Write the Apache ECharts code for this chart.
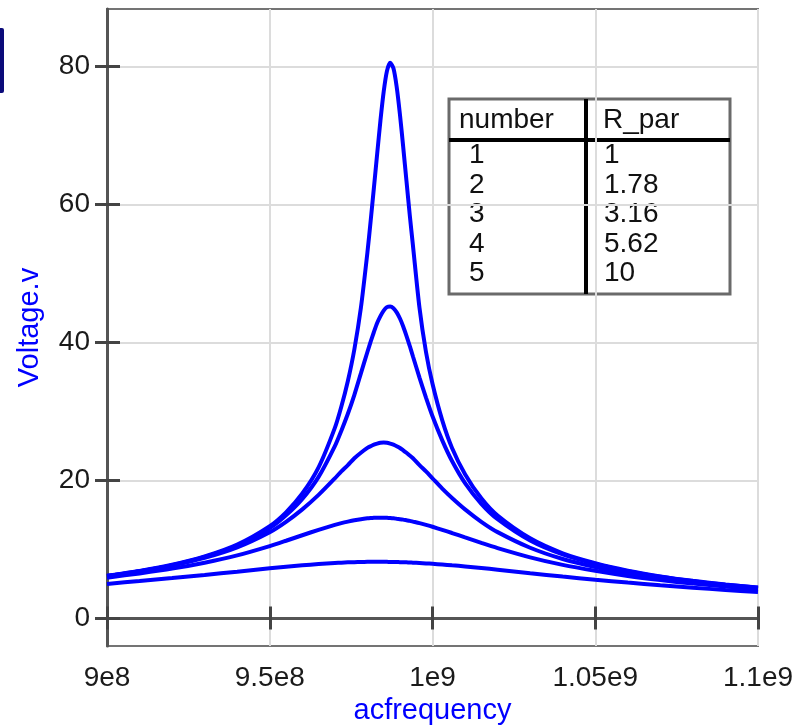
<!DOCTYPE html>
<html>
<head>
<meta charset="utf-8">
<script src="https://cdn.jsdelivr.net/npm/echarts@6/dist/echarts.min.js"></script>
<style>
html, body { margin: 0; padding: 0; background: #fff; }
#pic1 { width: 804px; height: 725px; }
</style>
</head>
<body>
<div id="pic1"></div>
<script>
// frequency points (Hz)
var freqs = [9.0e8, 9.1e8, 9.2e8, 9.3e8, 9.4e8, 9.5e8, 9.55e8, 9.6e8, 9.65e8, 9.7e8,
             9.72e8, 9.74e8, 9.76e8, 9.78e8, 9.8e8, 9.81e8, 9.82e8, 9.83e8, 9.84e8, 9.85e8,
             9.86e8, 9.87e8, 9.88e8, 9.89e8, 9.9e8, 9.91e8, 9.92e8, 9.93e8, 9.94e8, 9.96e8,
             9.98e8, 10.0e8, 10.03e8, 10.06e8, 10.1e8, 10.15e8, 10.2e8, 10.3e8, 10.4e8, 10.5e8,
             10.6e8, 10.7e8, 10.8e8, 10.9e8, 11.0e8];

// Voltage.v for each run
var volt1 = [6.18, 6.87, 7.77, 8.98, 10.7, 13.37, 15.37, 18.09, 21.88, 27.6,
             30.7, 34.4, 39.0, 45.0, 53.0, 57.6, 62.4, 67.3, 72.1, 76.3,
             79.3, 80.5, 79.7, 77.0, 73.0, 68.3, 63.4, 58.5, 54.0, 45.0,
             38.6, 34.0, 28.7, 24.7, 20.9, 17.4, 14.9, 11.6, 9.44, 8.01,
             6.92, 6.09, 5.44, 4.91, 4.48];
var volt2 = [6.16, 6.84, 7.72, 8.91, 10.56, 13.08, 14.93, 17.3, 20.5, 24.96,
             27.2, 29.65, 32.4, 35.5, 38.6, 40.1, 41.5, 42.8, 43.8, 44.6,
             45.1, 45.2, 44.95, 44.35, 43.45, 42.3, 40.95, 39.5, 37.95, 34.9,
             32.0, 29.3, 25.8, 22.8, 19.6, 16.6, 14.37, 11.28, 9.26, 7.89,
             6.84, 6.03, 5.39, 4.88, 4.45];
var volt3 = [6.15, 6.81, 7.66, 8.78, 10.3, 12.5, 14.0, 15.8, 17.9, 20.3,
             21.3, 22.2, 23.2, 24.0, 24.7, 24.95, 25.17, 25.33, 25.45, 25.47,
             25.45, 25.33, 25.17, 24.95, 24.7, 24.36, 24.0, 23.6, 23.2, 22.2,
             21.3, 20.3, 18.8, 17.45, 15.8, 14.0, 12.5, 10.24, 8.61, 7.45,
             6.52, 5.8, 5.22, 4.74, 4.34];
var volt4 = [5.9, 6.52, 7.21, 8.07, 9.13, 10.48, 11.25, 12.05, 12.83, 13.55,
             13.8, 14.02, 14.22, 14.38, 14.5, 14.54, 14.57, 14.59, 14.59, 14.59,
             14.57, 14.54, 14.5, 14.44, 14.38, 14.31, 14.22, 14.13, 14.02, 13.8,
             13.55, 13.28, 12.83, 12.37, 11.73, 10.94, 10.19, 8.85, 7.75, 6.89,
             6.15, 5.55, 5.04, 4.62, 4.25];
var volt5 = [5.0, 5.42, 5.85, 6.3, 6.77, 7.25, 7.48, 7.69, 7.88, 8.03,
             8.08, 8.12, 8.15, 8.17, 8.19, 8.2, 8.2, 8.2, 8.2, 8.2,
             8.19, 8.18, 8.17, 8.16, 8.15, 8.13, 8.12, 8.1, 8.08, 8.03,
             7.97, 7.91, 7.81, 7.69, 7.53, 7.3, 7.06, 6.55, 6.06, 5.61,
             5.19, 4.8, 4.44, 4.12, 3.82];

var runNumbers = ['1', '2', '3', '4', '5'];
var rParValues = ['1', '1.78', '3.16', '5.62', '10'];
var xTickLabels = ['9e8', '9.5e8', '1e9', '1.05e9', '1.1e9'];
var yTickValues = [0, 20, 40, 60, 80];

var allVolts = [volt1, volt2, volt3, volt4, volt5];
var FONT = '"Liberation Sans", Arial, sans-serif';

var myChart = echarts.init(document.getElementById('pic1'));

var seriesList = allVolts.map(function (v, k) {
    return {
        name: runNumbers[k],
        type: 'line',
        xAxisIndex: 0,
        yAxisIndex: 0,
        showSymbol: false,
        smooth: 0.25,
        lineStyle: { color: '#0000ff', width: 4 },
        data: freqs.map(function (f, i) { return [f, v[i]]; })
    };
});

// table in the top right (the runs and their R_par)
var tableItems = [
    { type: 'rect', shape: { x: 449, y: 99, width: 281, height: 195 },
      style: { fill: 'none', stroke: '#6a6a6a', lineWidth: 3 } },
    { type: 'line', shape: { x1: 449, y1: 140, x2: 730, y2: 140 },
      style: { stroke: '#000', lineWidth: 4 } },
    { type: 'line', shape: { x1: 586, y1: 99, x2: 586, y2: 294 },
      style: { stroke: '#000', lineWidth: 4 } },
    { type: 'text', x: 459, y: 120,
      style: { text: 'number', font: '28px ' + FONT, fill: '#111', verticalAlign: 'middle' } },
    { type: 'text', x: 603, y: 120,
      style: { text: 'R_par', font: '28px ' + FONT, fill: '#111', verticalAlign: 'middle' } }
];
runNumbers.forEach(function (n, i) {
    var yy = 155.5 + i * 29.5;
    tableItems.push({ type: 'text', x: 469, y: yy,
        style: { text: n, font: '28px ' + FONT, fill: '#111', verticalAlign: 'middle' } });
    tableItems.push({ type: 'text', x: 604, y: yy,
        style: { text: rParValues[i], font: '28px ' + FONT, fill: '#111', verticalAlign: 'middle' } });
});
tableItems.push({ type: 'rect', shape: { x: -4, y: 28, width: 8, height: 65, r: 2 },
    style: { fill: '#0b0b7a' } });

var gridPos = { left: 107, right: 46, top: 9, bottom: 79, outerBoundsMode: 'none', containLabel: false };

option = {
    animation: false,
    backgroundColor: '#fff',
    grid: [
        Object.assign({ show: true, borderColor: '#747474', borderWidth: 2 }, gridPos),
        Object.assign({ show: false }, gridPos)
    ],
    xAxis: [
        {
            type: 'value', gridIndex: 0, position: 'bottom',
            min: 9e8, max: 1.1e9, interval: 5e7,
            name: 'acfrequency', nameLocation: 'middle', nameGap: 50,
            nameTextStyle: { color: '#0000ff', fontSize: 29, fontFamily: FONT },
            axisLine: { show: true, lineStyle: { color: '#555', width: 3 } },
            axisTick: { show: true, inside: false, length: 11, lineStyle: { color: '#444', width: 3 } },
            axisLabel: {
                color: '#1a1a1a', fontSize: 28, fontFamily: FONT, margin: 18,
                formatter: function (v) { return xTickLabels[Math.round((v - 9e8) / 5e7)]; }
            },
            splitLine: { show: true, lineStyle: { color: '#dcdcdc', width: 2 } }
        },
        {
            type: 'value', gridIndex: 1, position: 'bottom',
            min: 9e8, max: 1.1e9, interval: 5e7,
            axisLine: { show: false },
            axisTick: { show: true, inside: true, length: 12, lineStyle: { color: '#444', width: 3 } },
            axisLabel: { show: false },
            splitLine: { show: false }
        }
    ],
    yAxis: [
        {
            type: 'value', gridIndex: 0, position: 'left',
            min: -4, max: 88.3,
            name: 'Voltage.v', nameLocation: 'middle', nameGap: 63,
            nameTextStyle: { color: '#0000ff', fontSize: 29, fontFamily: FONT },
            axisLine: { show: true, lineStyle: { color: '#555', width: 3 } },
            axisTick: { show: true, inside: false, length: 12, customValues: yTickValues,
                        lineStyle: { color: '#444', width: 3 } },
            axisLabel: { color: '#1a1a1a', fontSize: 28, fontFamily: FONT, margin: 17,
                         customValues: yTickValues },
            splitLine: { show: true, lineStyle: { color: '#dcdcdc', width: 2 } }
        },
        {
            type: 'value', gridIndex: 1, position: 'left',
            min: -4, max: 88.3,
            axisLine: { show: false },
            axisTick: { show: true, inside: true, length: 13, customValues: yTickValues,
                        lineStyle: { color: '#444', width: 3 } },
            axisLabel: { show: false, customValues: yTickValues },
            splitLine: { show: false }
        }
    ],
    graphic: tableItems,
    series: seriesList
};

myChart.setOption(option);
</script>
</body>
</html>
